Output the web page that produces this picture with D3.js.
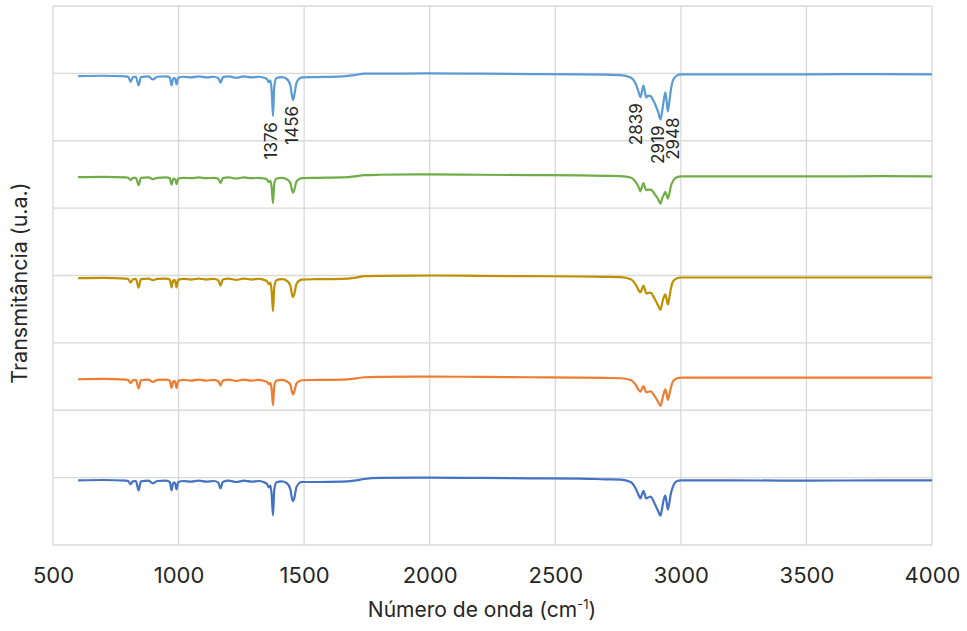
<!DOCTYPE html>
<html>
<head>
<meta charset="utf-8">
<script src="https://cdnjs.cloudflare.com/ajax/libs/d3/7.8.5/d3.min.js"></script>
<style>
  body { margin: 0; background: #fff; }
  svg text { font-family: Inter, "Liberation Sans", Arial, sans-serif; fill: #262626; }
</style>
</head>
<body>
<div id="chart"></div>
<script>
// wavenumbers (cm-1) shared by every spectrum
var wavenumbers = [600, 700, 790, 800, 809, 818, 830, 841, 850, 880,
  898, 915, 950, 965, 972, 978, 983, 987, 992, 998,
  1020, 1050, 1080, 1110, 1140, 1158, 1167, 1176, 1200, 1230,
  1260, 1290, 1320, 1340, 1352, 1359, 1366, 1371, 1376, 1381,
  1390, 1410, 1430, 1445, 1451, 1456, 1461, 1470, 1490, 1550,
  1650, 1700, 1740, 1800, 2000, 2200, 2400, 2600, 2700, 2760,
  2800, 2820, 2832, 2839, 2845, 2851, 2857, 2862, 2870, 2880,
  2890, 2900, 2910, 2919, 2926, 2932, 2938, 2943, 2948, 2954,
  2960, 2970, 2985, 3000, 3200, 3500, 3800, 4000];

// transmittance (u.a.), bottom spectrum first
var tDarkBlue = [99.2, 99.3, 99.1, 98.9, 98.0, 98.9, 99.0, 96.2, 98.9, 99.1,
  98.3, 99.0, 99.1, 98.7, 96.2, 98.3, 98.6, 98.1, 96.5, 98.6,
  99.0, 98.8, 99.1, 98.8, 99.0, 98.5, 96.8, 98.7, 99.1, 98.7,
  99.1, 98.8, 99.0, 98.6, 98.1, 97.1, 97.6, 94.6, 88.8, 96.4,
  98.6, 98.9, 98.4, 96.6, 94.0, 93.0, 94.0, 97.3, 98.7, 98.7,
  98.8, 99.1, 99.6, 99.9, 100, 99.9, 99.8, 99.7, 99.5, 99.4,
  98.7, 96.8, 94.8, 93.8, 95.0, 96.1, 94.8, 93.8, 94.1, 94.4,
  93.2, 91.6, 90.0, 88.7, 91.2, 93.6, 94.7, 92.8, 90.5, 92.5,
  95.2, 97.6, 99.0, 99.2, 99.2, 99.1, 99.2, 99.2];

var tOrange = [99.2, 99.3, 99.1, 98.9, 98.1, 98.9, 99.0, 96.5, 98.9, 99.1,
  98.4, 99.0, 99.1, 98.8, 96.6, 98.4, 98.7, 98.2, 96.6, 98.7,
  99.0, 98.8, 99.1, 98.8, 99.0, 98.6, 97.4, 98.8, 99.1, 98.7,
  99.1, 98.8, 99.0, 98.7, 98.4, 97.7, 98.1, 95.9, 91.5, 97.3,
  98.8, 99.0, 98.6, 97.6, 95.6, 94.7, 95.6, 98.0, 98.9, 99.0,
  99.1, 99.4, 99.8, 99.9, 100, 99.9, 99.8, 99.7, 99.6, 99.5,
  99.0, 97.6, 96.0, 95.5, 96.4, 97.2, 96.1, 95.3, 95.5, 95.6,
  94.8, 93.7, 92.4, 91.3, 93.2, 95.0, 96.2, 95.0, 93.1, 94.6,
  96.6, 98.7, 99.5, 99.7, 99.7, 99.7, 99.7, 99.7];

var tGold = [99.2, 99.3, 99.1, 98.9, 97.9, 98.9, 99.0, 96.4, 98.9, 99.1,
  98.6, 99.0, 99.1, 98.8, 96.5, 98.4, 98.7, 98.2, 96.5, 98.7,
  99.0, 98.8, 99.1, 98.8, 99.0, 98.6, 97.0, 98.8, 99.1, 98.7,
  99.1, 98.8, 99.0, 98.7, 98.3, 97.4, 97.9, 95.0, 89.4, 96.6,
  98.6, 98.9, 98.5, 97.0, 94.6, 93.6, 94.6, 97.6, 98.8, 98.9,
  99.0, 99.3, 99.8, 99.9, 100, 99.9, 99.8, 99.7, 99.6, 99.5,
  98.9, 97.3, 95.6, 95.0, 96.0, 97.0, 95.8, 94.7, 94.8, 94.9,
  93.9, 92.5, 91.0, 89.8, 92.0, 93.6, 94.4, 93.0, 91.4, 93.3,
  96.0, 98.4, 99.2, 99.4, 99.4, 99.4, 99.4, 99.4];

var tGreen = [99.2, 99.3, 99.1, 99.0, 98.3, 99.0, 99.0, 96.8, 99.0, 99.1,
  98.6, 99.0, 99.1, 98.9, 97.0, 98.6, 98.8, 98.4, 97.1, 98.8,
  99.0, 98.9, 99.1, 98.9, 99.0, 98.7, 97.4, 98.9, 99.1, 98.8,
  99.1, 98.9, 99.0, 98.8, 98.5, 97.7, 98.1, 95.9, 91.5, 97.3,
  98.8, 99.0, 98.6, 97.5, 95.5, 94.5, 95.5, 98.0, 98.9, 99.0,
  99.1, 99.4, 99.8, 99.9, 100, 99.9, 99.8, 99.7, 99.6, 99.5,
  99.1, 97.8, 96.2, 95.0, 96.3, 97.4, 96.2, 95.3, 95.5, 95.5,
  94.8, 93.7, 92.6, 91.3, 93.0, 93.9, 94.8, 93.9, 92.8, 94.2,
  96.5, 98.2, 99.2, 99.4, 99.4, 99.4, 99.5, 99.4];

var tLightBlue = [99.2, 99.3, 99.1, 98.9, 97.5, 98.9, 99.0, 96.4, 98.9, 99.1,
  98.2, 99.0, 99.1, 98.8, 96.4, 98.4, 98.7, 98.2, 96.7, 98.7,
  99.0, 98.8, 99.1, 98.8, 99.0, 98.6, 97.2, 98.8, 99.1, 98.7,
  99.1, 98.8, 99.0, 98.7, 98.3, 97.4, 97.9, 94.5, 87.3, 96.2,
  98.6, 98.9, 98.4, 96.5, 93.6, 92.1, 93.6, 97.3, 98.8, 98.9,
  99.1, 99.5, 99.9, 99.9, 100, 99.9, 99.8, 99.7, 99.6, 99.5,
  98.8, 96.9, 94.4, 92.9, 94.6, 96.4, 94.4, 92.9, 93.4, 93.2,
  92.0, 90.4, 88.5, 86.3, 89.0, 92.0, 94.4, 92.0, 88.7, 91.5,
  95.0, 98.2, 99.4, 99.7, 99.7, 99.7, 99.8, 99.7];

var spectra = [tDarkBlue, tOrange, tGold, tGreen, tLightBlue];
var shifts = [-80, -50, -20, 10, 40];
var colors = ['#4472C4', '#ED7D31', '#BF9000', '#70AD47', '#5B9BD5'];

var peakLabels = [1376, 1456, 2839, 2919, 2948];
var xTicks = [500, 1000, 1500, 2000, 2500, 3000, 3500, 4000];
var yTicks = [0, 20, 40, 60, 80, 100, 120, 140, 160];

(function () {
  var width = 967, height = 631;
  var left = 53, right = 932, top = 6, bottom = 545;

  var svg = d3.select('#chart').append('svg')
    .attr('width', width)
    .attr('height', height);

  var x = d3.scaleLinear().domain([500, 4000]).range([left, right]);
  var y = d3.scaleLinear().domain([0, 160]).range([bottom, top]);

  // grid
  svg.append('g').selectAll('line').data(yTicks).enter()
    .append('line')
    .attr('x1', left).attr('x2', right)
    .attr('y1', function(d) { return y(d); })
    .attr('y2', function(d) { return y(d); })
    .attr('stroke', '#d9d9d9')
    .attr('stroke-width', 1.3);

  svg.append('g').selectAll('line').data(xTicks).enter()
    .append('line')
    .attr('y1', top).attr('y2', bottom)
    .attr('x1', function(d) { return x(d); })
    .attr('x2', function(d) { return x(d); })
    .attr('stroke', '#d9d9d9')
    .attr('stroke-width', 1.3);

  // x axis labels
  var xAxis = d3.axisBottom(x).tickValues(xTicks).tickFormat(d3.format('d')).tickSize(0).tickPadding(0);
  var gx = svg.append('g')
    .attr('transform', 'translate(0,' + (bottom + 30) + ')')
    .call(xAxis);
  gx.select('.domain').remove();
  gx.selectAll('text')
    .attr('dy', '0.35em')
    .attr('y', 0)
    .style('font-size', '22px')
    .style('fill', '#262626');

  // spectra
  var line = d3.line()
    .x(function(d) { return x(d[0]); })
    .y(function(d) { return y(d[1]); })
    .curve(d3.curveMonotoneX);

  spectra.forEach(function(values, i) {
    var pts = wavenumbers.map(function(w, j) { return [w, values[j] + shifts[i]]; });
    svg.append('path')
      .datum(pts)
      .attr('d', line)
      .attr('fill', 'none')
      .attr('stroke', colors[i])
      .attr('stroke-width', 2.2)
      .attr('stroke-linejoin', 'round');
  });

  // peak labels on the top spectrum
  var topValues = spectra[4], topShift = shifts[4];
  var nudge = { 1376: -2, 1456: -1, 2839: -4, 2919: -2, 2948: 5 };
  svg.append('g').selectAll('text').data(peakLabels).enter()
    .append('text')
    .attr('transform', function(d) {
      var v = topValues[wavenumbers.indexOf(d)] + topShift;
      return 'translate(' + (x(d) + nudge[d]) + ',' + (y(v) + 6) + ') rotate(-90)';
    })
    .attr('text-anchor', 'end')
    .attr('dy', '0.35em')
    .style('font-size', '17px')
    .text(function(d) { return d; });

  // axis titles
  svg.append('text')
    .attr('transform', 'translate(19,283) rotate(-90)')
    .attr('text-anchor', 'middle')
    .attr('dy', '0.35em')
    .style('font-size', '21.5px')
    .text('Transmitância (u.a.)');

  var xt = svg.append('text')
    .attr('x', 482)
    .attr('y', 610)
    .attr('text-anchor', 'middle')
    .attr('dy', '0.35em')
    .style('font-size', '21px');
  xt.append('tspan').text('Número de onda (cm');
  xt.append('tspan').attr('baseline-shift', 'super').style('font-size', '13px').text('-1');
  xt.append('tspan').text(')');
})();
</script>
</body>
</html>
